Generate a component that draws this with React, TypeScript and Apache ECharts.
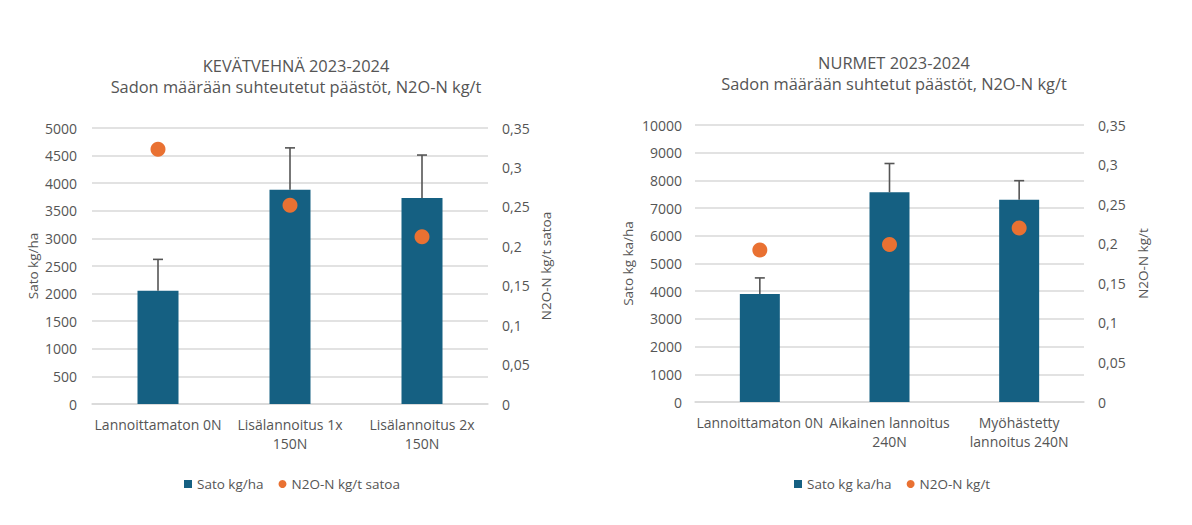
import React, { useEffect, useRef } from "react";
import * as echarts from "echarts";

const leftTitle = "KEVÄTVEHNÄ 2023-2024\nSadon määrään suhteutetut päästöt, N2O-N kg/t";
const leftCategories = ["Lannoittamaton 0N", "Lisälannoitus 1x\n150N", "Lisälannoitus 2x\n150N"];
const leftYieldName = "Sato kg/ha";
const leftN2OName = "N2O-N kg/t satoa";
const leftYield = [2050, 3880, 3730];
const leftYieldError = [570, 760, 780];
const leftN2O = [0.323, 0.252, 0.212];

const rightTitle = "NURMET 2023-2024\nSadon määrään suhtetut päästöt, N2O-N kg/t";
const rightCategories = ["Lannoittamaton 0N", "Aikainen lannoitus\n240N", "Myöhästetty\nlannoitus 240N"];
const rightYieldName = "Sato kg ka/ha";
const rightN2OName = "N2O-N kg/t";
const rightYield = [3900, 7570, 7300];
const rightYieldError = [580, 1040, 690];
const rightN2O = [0.192, 0.199, 0.22];

const TEXT = "#555555";
const GRID = "#d9d9d9";
const BAR = "#156082";
const DOT = "#E97132";
const FONT = "Open Sans";

const commaFmt = (v: number) => Number(v.toFixed(2)).toString().replace(".", ",");
const plainFmt = (v: number) => String(Math.round(v));

function errorSeries(values: number[], errors: number[], axisIndex: number, yAxisIndex: number) {
  return {
    type: "custom",
    xAxisIndex: axisIndex,
    yAxisIndex,
    z: 5,
    silent: true,
    data: values.map((v, i) => [i, v, v + errors[i]]),
    renderItem: (params: any, api: any) => {
      const base = api.coord([api.value(0), api.value(1)]);
      const top = api.coord([api.value(0), api.value(2)]);
      const style = { stroke: "#555555", lineWidth: 1.6 };
      return {
        type: "group",
        children: [
          { type: "line", shape: { x1: base[0], y1: base[1], x2: base[0], y2: top[1] }, style },
          { type: "line", shape: { x1: base[0] - 5, y1: top[1], x2: base[0] + 5, y2: top[1] }, style },
        ],
      };
    },
  };
}

export default function App() {
  const ref = useRef<HTMLDivElement>(null);
  useEffect(() => {
    if (!ref.current) return;
    const chart = echarts.init(ref.current, undefined, { renderer: "svg" });
    const axisLabel = { color: TEXT, fontSize: 14, fontFamily: FONT };
    const nameStyle = { color: TEXT, fontSize: 13.5, fontFamily: FONT };
    const xAxisBase = {
      type: "category",
      axisTick: { show: false },
      axisLine: { show: true, lineStyle: { color: GRID, width: 1.5 } },
      axisLabel: { ...axisLabel, margin: 11, lineHeight: 19, interval: 0 },
    };
    const yBase = {
      type: "value",
      axisTick: { show: false },
      axisLine: { show: false },
      nameLocation: "middle",
      nameRotate: 90,
      nameTextStyle: nameStyle,
    };
    const titleStyle = { color: TEXT, fontSize: 16.4, fontWeight: "normal", lineHeight: 21, fontFamily: FONT };
    const legendText = { color: TEXT, fontSize: 13.5, fontFamily: FONT };
    chart.setOption({
      animation: false,
      textStyle: { fontFamily: FONT },
      title: [
        { text: leftTitle, left: 291, top: 50, textAlign: "center", textStyle: titleStyle },
        { text: rightTitle, left: 889, top: 47, textAlign: "center", textStyle: titleStyle },
      ],
      legend: [
        {
          left: 179,
          top: 472,
          itemWidth: 8,
          itemHeight: 8,
          itemGap: 15,
          textStyle: legendText,
          data: [
            { name: leftYieldName, icon: "rect" },
            { name: leftN2OName, icon: "circle" },
          ],
        },
        {
          left: 789,
          top: 472,
          itemWidth: 8,
          itemHeight: 8,
          itemGap: 15,
          textStyle: legendText,
          data: [
            { name: rightYieldName, icon: "rect" },
            { name: rightN2OName, icon: "circle" },
          ],
        },
      ],
      grid: [
        { left: 92, width: 396, top: 128, height: 276 },
        { left: 695, width: 389, top: 125, height: 277 },
      ],
      xAxis: [
        { ...xAxisBase, gridIndex: 0, data: leftCategories },
        { ...xAxisBase, gridIndex: 1, data: rightCategories },
      ],
      yAxis: [
        {
          ...yBase,
          gridIndex: 0,
          min: 0,
          max: 5000,
          interval: 500,
          name: leftYieldName,
          nameGap: 52,
          axisLabel: { ...axisLabel, margin: 15, formatter: plainFmt },
          splitLine: { lineStyle: { color: GRID, width: 1.5 } },
        },
        {
          ...yBase,
          gridIndex: 0,
          position: "right",
          min: 0,
          max: 0.35,
          interval: 0.05,
          name: leftN2OName,
          nameGap: 51,
          axisLabel: { ...axisLabel, margin: 14, formatter: commaFmt },
          splitLine: { show: false },
        },
        {
          ...yBase,
          gridIndex: 1,
          min: 0,
          max: 10000,
          interval: 1000,
          name: rightYieldName,
          nameGap: 60,
          axisLabel: { ...axisLabel, margin: 13, formatter: plainFmt },
          splitLine: { lineStyle: { color: GRID, width: 1.5 } },
        },
        {
          ...yBase,
          gridIndex: 1,
          position: "right",
          min: 0,
          max: 0.35,
          interval: 0.05,
          name: rightN2OName,
          nameGap: 52,
          axisLabel: { ...axisLabel, margin: 14, formatter: commaFmt },
          splitLine: { show: false },
        },
      ],
      series: [
        {
          name: leftYieldName,
          type: "bar",
          xAxisIndex: 0,
          yAxisIndex: 0,
          barWidth: 41,
          itemStyle: { color: BAR },
          data: leftYield,
        },
        errorSeries(leftYield, leftYieldError, 0, 0),
        {
          name: leftN2OName,
          type: "scatter",
          xAxisIndex: 0,
          yAxisIndex: 1,
          symbolSize: 15,
          z: 10,
          itemStyle: { color: DOT, opacity: 1 },
          data: leftN2O,
        },
        {
          name: rightYieldName,
          type: "bar",
          xAxisIndex: 1,
          yAxisIndex: 2,
          barWidth: 40,
          itemStyle: { color: BAR },
          data: rightYield,
        },
        errorSeries(rightYield, rightYieldError, 1, 2),
        {
          name: rightN2OName,
          type: "scatter",
          xAxisIndex: 1,
          yAxisIndex: 3,
          symbolSize: 15,
          z: 10,
          itemStyle: { color: DOT, opacity: 1 },
          data: rightN2O,
        },
      ],
    });
    return () => chart.dispose();
  }, []);
  return (
    <div
      ref={ref}
      style={{ position: "fixed", left: 0, top: 0, width: 1192, height: 525, background: "#fff" }}
    />
  );
}
